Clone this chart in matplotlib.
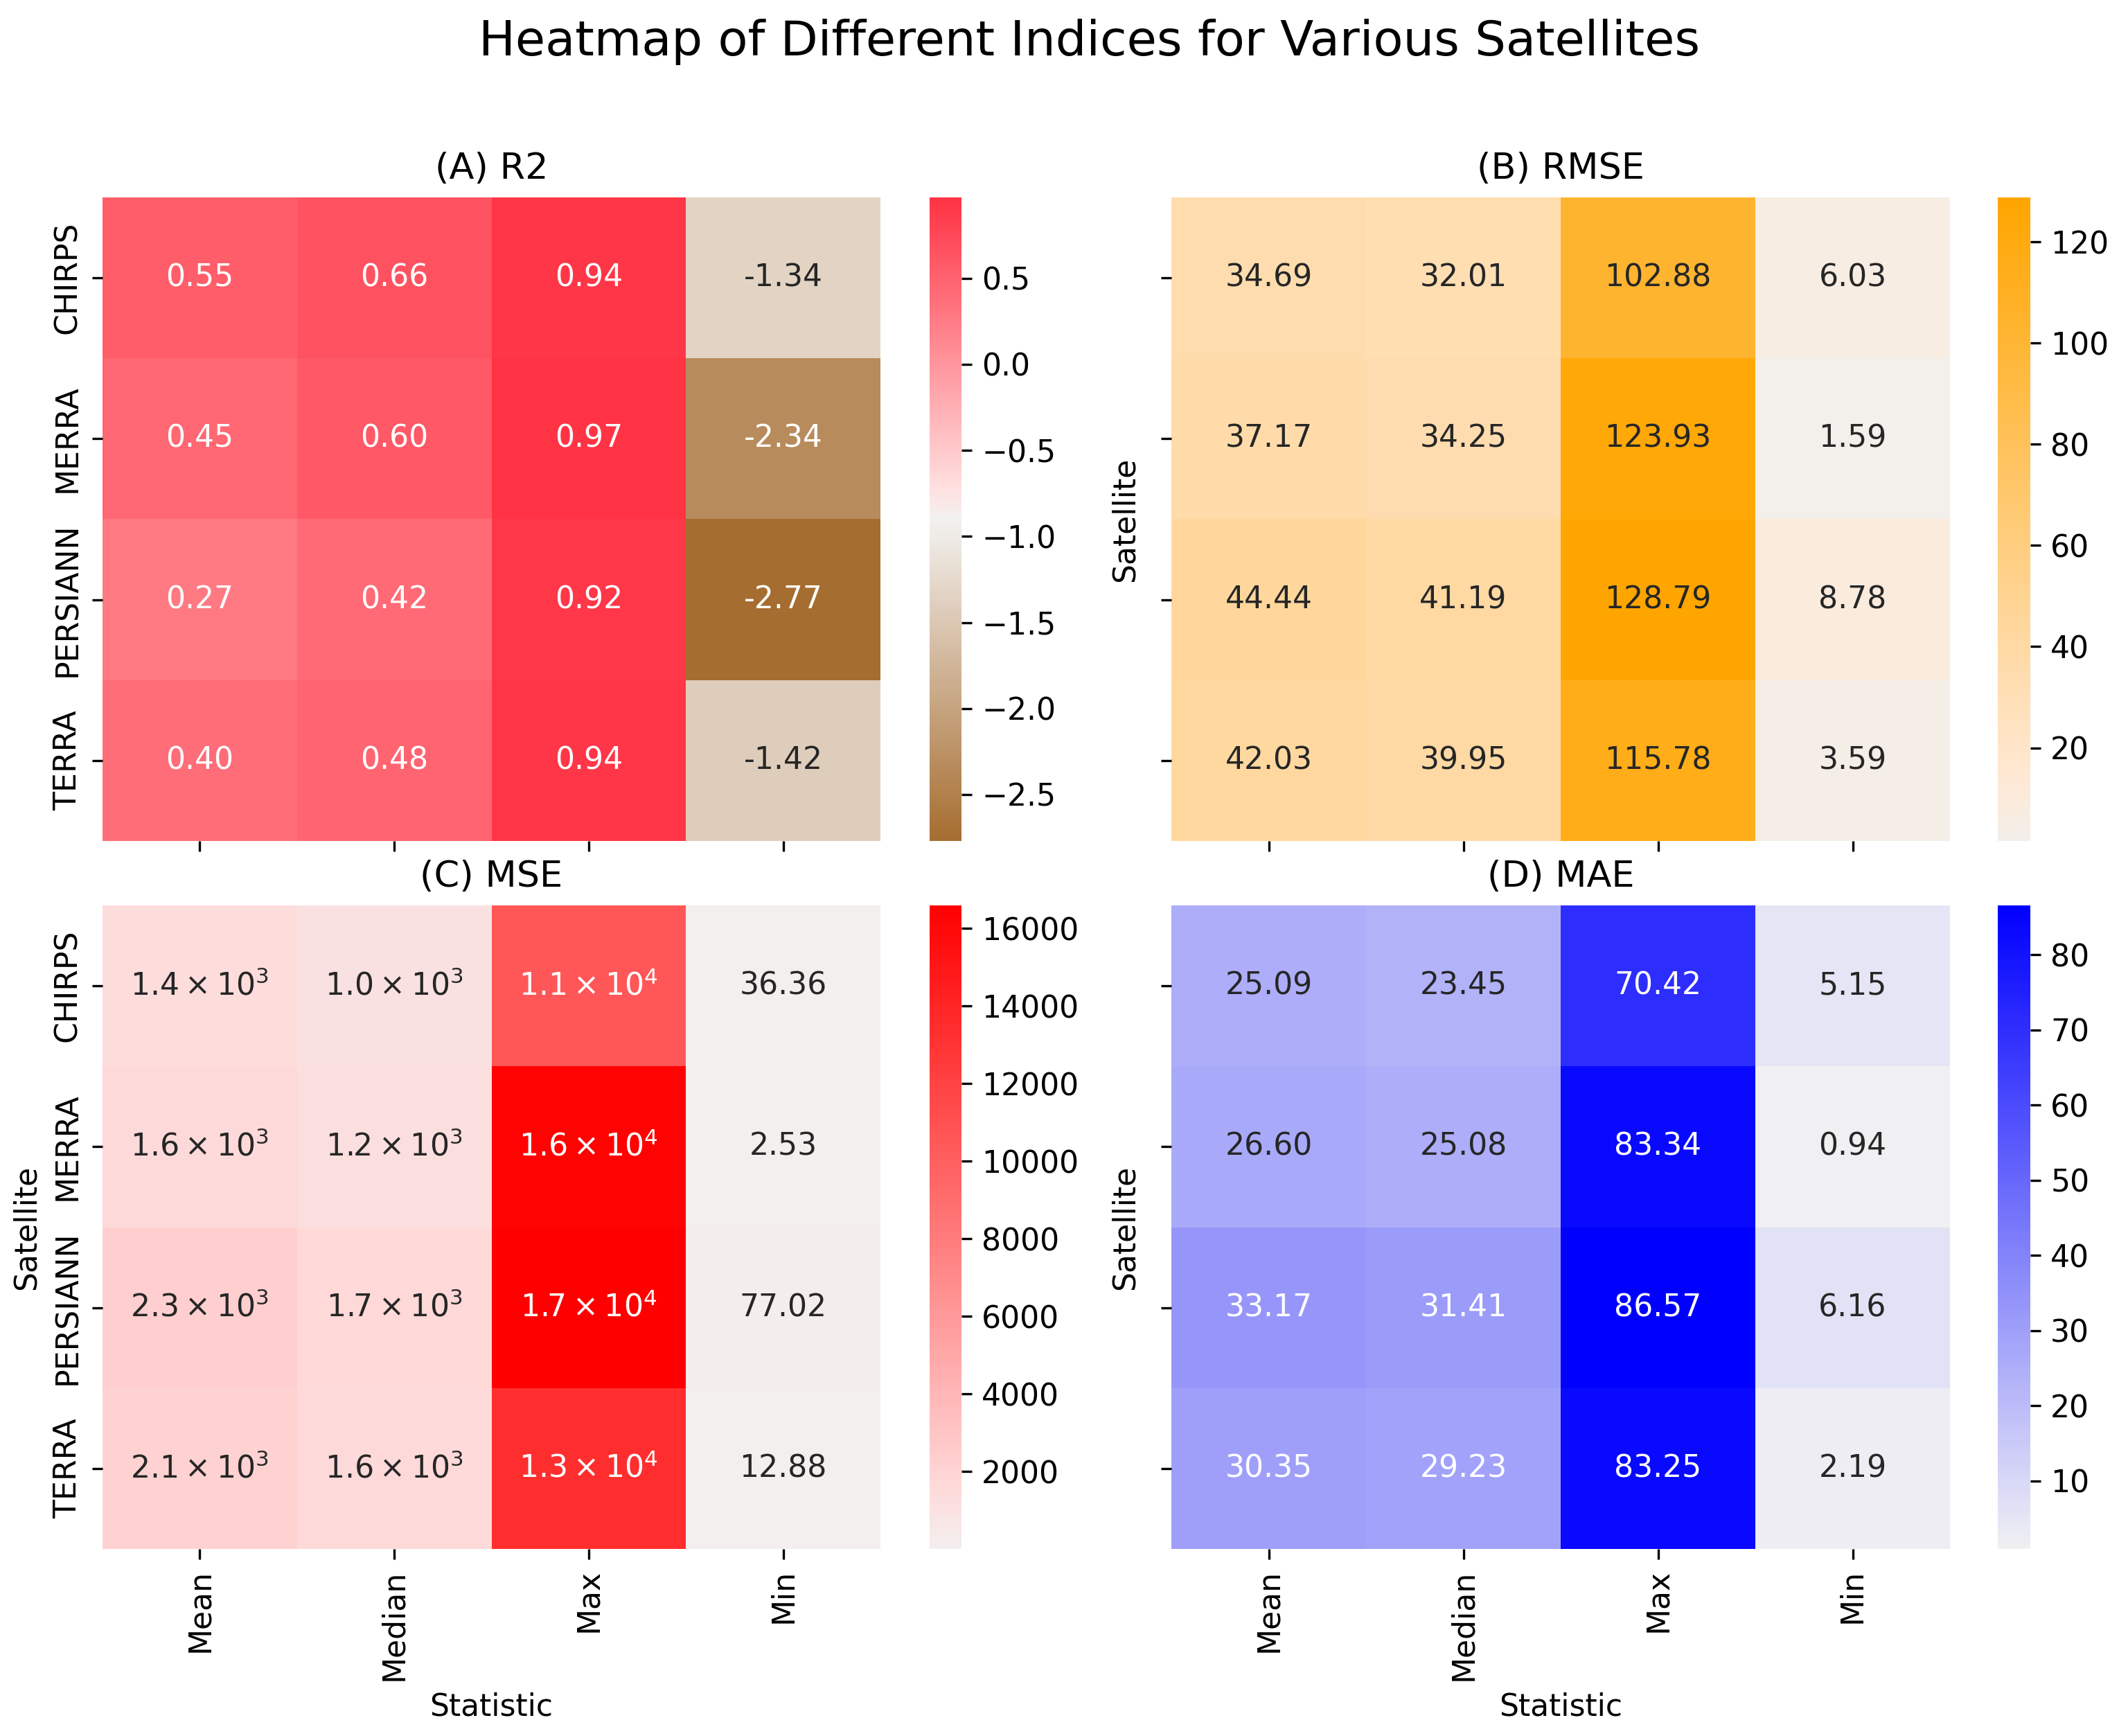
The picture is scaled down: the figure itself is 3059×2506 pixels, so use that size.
import numpy as np
import matplotlib
matplotlib.use('Agg')
import matplotlib.pyplot as plt
from matplotlib.colors import LinearSegmentedColormap, to_rgb

satellites = ['CHIRPS', 'MERRA', 'PERSIANN', 'TERRA']
statistics = ['Mean', 'Median', 'Max', 'Min']

r2 = [[0.55, 0.66, 0.94, -1.34],
      [0.45, 0.60, 0.97, -2.34],
      [0.27, 0.42, 0.92, -2.77],
      [0.40, 0.48, 0.94, -1.42]]
rmse = [[34.69, 32.01, 102.88, 6.03],
        [37.17, 34.25, 123.93, 1.59],
        [44.44, 41.19, 128.79, 8.78],
        [42.03, 39.95, 115.78, 3.59]]
mse = [[1400, 1000, 10600, 36.36],
       [1600, 1200, 16400, 2.53],
       [2300, 1700, 16590, 77.02],
       [2100, 1600, 13400, 12.88]]
mae = [[25.09, 23.45, 70.42, 5.15],
       [26.60, 25.08, 83.34, 0.94],
       [33.17, 31.41, 86.57, 6.16],
       [30.35, 29.23, 83.25, 2.19]]

W, H = 3059, 2506
plt.rcParams['font.family'] = 'DejaVu Sans'
plt.rcParams['font.size'] = 10.6


def box(x0, y0, x1, y1):
    return [x0 / W, 1 - y1 / H, (x1 - x0) / W, (y1 - y0) / H]


def label_for(v):
    if abs(v) >= 1000:
        m, e = ('%.1e' % v).split('e')
        return r'$\mathdefault{%s\times10^{%d}}$' % (m, int(e))
    return '%.2f' % v


def luminance(c):
    rgb = np.array(to_rgb(c))
    rgb = np.where(rgb <= .03928, rgb / 12.92, ((rgb + .055) / 1.055) ** 2.4)
    return rgb.dot([.2126, .7152, .0722])


def draw(pos, cpos, data, colors, title, xlabels, ylabels, ticks, ylab_on):
    ax = fig.add_axes(box(*pos))
    data = np.array(data, dtype=float)
    cmap = LinearSegmentedColormap.from_list(title, colors)
    mesh = ax.pcolormesh(data, cmap=cmap, vmin=data.min(), vmax=data.max(), linewidth=0)
    ax.invert_yaxis()
    for i in range(data.shape[0]):
        for j in range(data.shape[1]):
            c = mesh.to_rgba(data[i, j])
            ax.text(j + .5, i + .5, label_for(data[i, j]), ha='center', va='center',
                    color='.15' if luminance(c) > .408 else 'w')
    for s in ax.spines.values():
        s.set_visible(False)
    ax.set_xticks(np.arange(4) + .5)
    ax.set_yticks(np.arange(4) + .5)
    if ylabels:
        ax.set_yticklabels(satellites, rotation=90, va='center')
    else:
        ax.set_yticklabels([])
    if xlabels:
        ax.set_xticklabels(statistics, rotation=90)
        ax.set_xlabel('Statistic')
    else:
        ax.set_xticklabels([])
    ax.set_title(title, fontsize=12.6, pad=6.5)
    if ylab_on:
        ax.set_ylabel('Satellite')
    cax = fig.add_axes(box(*cpos))
    cb = fig.colorbar(mesh, cax=cax, ticks=ticks)
    cb.outline.set_visible(False)


fig = plt.figure(figsize=(W / 300, H / 300), dpi=300)
fig.text(806 / 1568, 1 - 61 / H, 'Heatmap of Different Indices for Various Satellites',
         fontsize=16.9, ha='center', va='center')

draw((148, 285, 1271, 1214), (1342, 285, 1388, 1214), r2,
     [(0, '#a66d30'), (.382, '#e2d3c4'), (.5, '#f2f2f0'), (.55, '#ffdfdf'), (1, '#ff3344')],
     '(A) R2', False, True, [-2.5, -2, -1.5, -1, -.5, 0, .5], False)
draw((1691, 285, 2815, 1214), (2884, 285, 2931, 1214), rmse,
     [(0, '#f3efea'), (.1, '#ffe8d3'), (1, '#ffa500')],
     '(B) RMSE', False, False, [20, 40, 60, 80, 100, 120], True)
draw((148, 1307, 1271, 2236), (1342, 1307, 1388, 2236), mse,
     [(0, '#f3efee'), (.1, '#ffd8d8'), (1, '#ff0000')],
     '(C) MSE', True, True, list(range(2000, 16001, 2000)), True)
draw((1691, 1307, 2815, 2236), (2884, 1307, 2931, 2236), mae,
     [(0, '#f0f0f2'), (.1, '#d9d9f8'), (1, '#0000ff')],
     '(D) MAE', True, False, list(range(10, 81, 10)), True)

fig.savefig('out.png', dpi=300)
